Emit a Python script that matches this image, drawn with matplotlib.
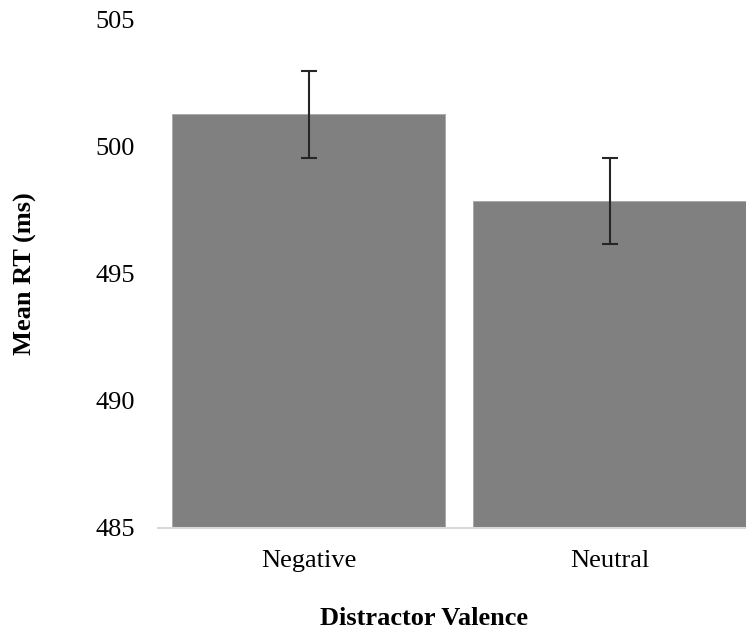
import numpy as np
from matplotlib import pyplot as plt

categories = ["Negative", "Neutral"]
mean_rt = [501.28, 497.87]
err = [1.71, 1.69]
yticks = [485, 490, 495, 500, 505]

plt.rcParams["font.family"] = ["Liberation Serif", "DejaVu Serif"]

fig = plt.figure(figsize=(7.46, 6.39), dpi=100)
ax = fig.add_axes([0.212, 0.174, 0.788, 0.795])

x = np.arange(len(categories))
ax.bar(x, mean_rt, width=0.907, color="#808080", edgecolor="#a6a6a6", linewidth=0.6,
       yerr=err, error_kw=dict(ecolor="#262626", elinewidth=1.5, capsize=6, capthick=1.5),
       zorder=2)

ax.set_ylim(485, 505)
ax.set_xlim(-0.5, 1.453)
ax.set_yticks(yticks)
ax.set_xticks(x)
ax.set_xticklabels(categories)
ax.tick_params(axis="both", length=0, labelsize=19, labelcolor="black")
ax.tick_params(axis="y", pad=16.5)
ax.tick_params(axis="x", pad=16)

for s in ["top", "right", "left"]:
    ax.spines[s].set_visible(False)
ax.spines["bottom"].set_color("#d9d9d9")
ax.spines["bottom"].set_linewidth(1.5)

ax.set_ylabel("Mean RT (ms)", fontsize=19, fontweight="bold", labelpad=42)
ax.set_xlabel("Distractor Valence", fontsize=19, fontweight="bold")
ax.xaxis.set_label_coords(0.452, -0.155)

fig.savefig("out.png", dpi=100)
